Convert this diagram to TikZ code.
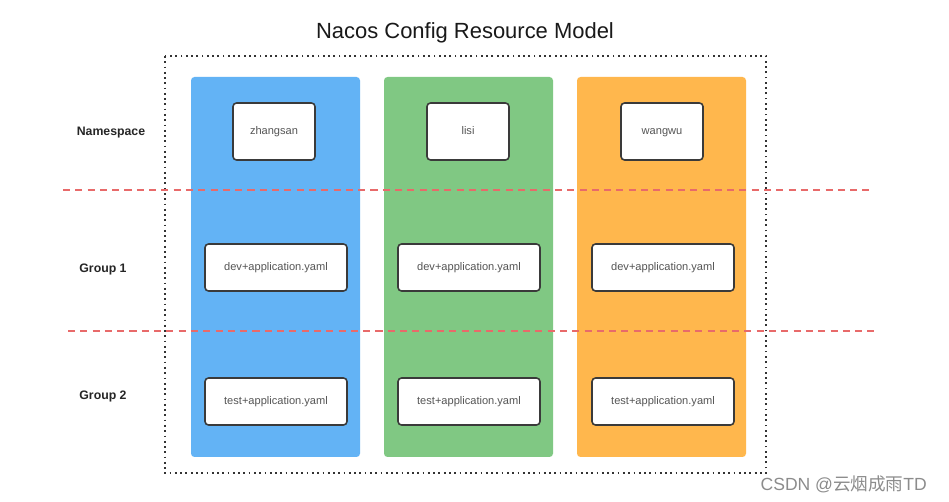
\documentclass[tikz,border=0pt]{standalone}
\usepackage{fontspec}
\setmainfont{Liberation Sans}
\newfontfamily\cjkfont{Noto Sans CJK SC}
\usepackage{xcolor}
\usepackage{tikz}

\definecolor{colblue}{HTML}{63B3F5}
\definecolor{colgreen}{HTML}{80C883}
\definecolor{colorange}{HTML}{FFB74D}
\definecolor{sepred}{HTML}{E86A6A}
\definecolor{boxline}{HTML}{3A3A3A}
\definecolor{boxtext}{HTML}{555555}

\begin{document}
\begin{tikzpicture}[x=0.02cm,y=-0.02cm,
  column/.style={rounded corners=2pt, draw=none},
  nsbox/.style={draw=boxline, line width=0.9pt, fill=white, rounded corners=2pt,
    minimum width=1.64cm, minimum height=1.14cm, font=\fontsize{6.3}{7}\selectfont, text=boxtext,
    text height=1.2ex, text depth=0.6ex},
  filebox/.style={draw=boxline, line width=0.9pt, fill=white, rounded corners=2pt,
    minimum width=2.84cm, minimum height=0.94cm, font=\fontsize{6.3}{7}\selectfont, text=boxtext,
    text height=1.2ex, text depth=0.6ex},
  rowlabel/.style={font=\bfseries\fontsize{7}{8}\selectfont, text=black!85},
  separator/.style={draw=sepred, dashed, dash pattern=on 4pt off 3pt, line width=0.7pt}]
  \useasboundingbox[fill=white] (0,0) rectangle (949,502);

  \node[font=\fontsize{12.5}{14}\selectfont, text=black!90] (title) at (465,33) {Nacos Config Resource Model};

  \draw[dotted, line width=1pt, black!80] (165,56) rectangle (766,473);

  \fill[colblue, column] (191,77) rectangle (360,457);
  \fill[colgreen, column] (384,77) rectangle (553,457);
  \fill[colorange, column] (577,77) rectangle (746,457);

  \node[rowlabel] (nslabel) at (111,133) {Namespace};
  \node[rowlabel] (g1label) at (103,269) {Group 1};
  \node[rowlabel] (g2label) at (103,396) {Group 2};

  \node[nsbox] (zhangsan) at (274,131.5) {zhangsan};
  \node[nsbox] (lisi) at (468,131.5) {lisi};
  \node[nsbox] (wangwu) at (662,131.5) {wangwu};

  \node[filebox] (devA) at (276,267.5) {dev+application.yaml};
  \node[filebox] (devB) at (469,267.5) {dev+application.yaml};
  \node[filebox] (devC) at (663,267.5) {dev+application.yaml};

  \node[filebox] (testA) at (276,401.5) {test+application.yaml};
  \node[filebox] (testB) at (469,401.5) {test+application.yaml};
  \node[filebox] (testC) at (663,401.5) {test+application.yaml};

  \coordinate (sep1l) at (63,190);
  \coordinate (sep1r) at (873,190);
  \coordinate (sep2l) at (68,331);
  \coordinate (sep2r) at (877,331);
  \draw[separator] (sep1l) -- (sep1r);
  \draw[separator] (sep2l) -- (sep2r);

  \node[text=black!45, font=\fontsize{10}{12}\selectfont, anchor=east] (mark) at (933,484) {CSDN @{\cjkfont 云烟成雨}TD};
\end{tikzpicture}
\end{document}
